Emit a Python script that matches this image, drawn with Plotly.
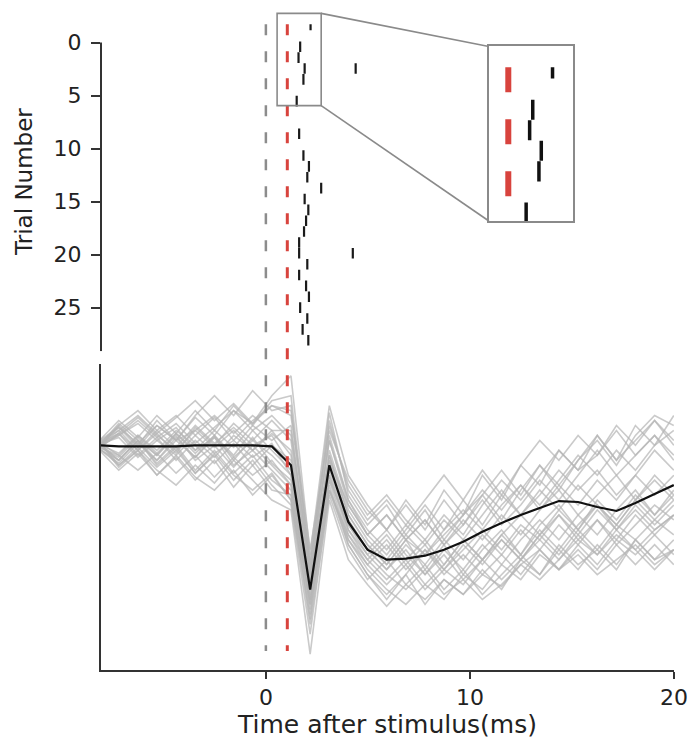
import plotly.graph_objects as go

# ---------------- data ----------------
time_ms = [-8.15, -7.21, -6.27, -5.34, -4.40, -3.46, -2.52, -1.58, -0.65, 0.29,
           1.23, 2.17, 3.11, 4.04, 4.98, 5.92, 6.86, 7.80, 8.73, 9.67,
           10.61, 11.55, 12.49, 13.42, 14.36, 15.30, 16.24, 17.18, 18.11, 19.05, 19.99]

mean_trace = [0.00, -0.01, -0.01, -0.01, -0.01, 0.00, 0.00, 0.00, 0.00, -0.01,
              -0.20, -1.45, -0.20, -0.77, -1.05, -1.15, -1.14, -1.11, -1.05, -0.97,
              -0.87, -0.78, -0.70, -0.63, -0.56, -0.57, -0.62, -0.66, -0.58, -0.49, -0.40]

trace_01 = [0.00, 0.18, -0.02, 0.20, 0.05, 0.28, 0.10, 0.35, 0.22, 0.50, 0.70, -1.10, 0.40, -0.30,
            -0.60, -0.85, -0.55, -0.80, -0.45, -0.70, -0.30, -0.55, -0.20, -0.40, -0.05, -0.25, 0.10, -0.15, 0.20, 0.00, 0.30]
trace_02 = [0.02, -0.15, 0.05, -0.20, -0.02, -0.28, -0.10, -0.35, -0.15, -0.40, -0.60, -1.90, -0.45, -1.00,
            -1.30, -1.55, -1.30, -1.60, -1.35, -1.50, -1.25, -1.45, -1.15, -1.30, -1.00, -1.20, -1.05, -1.25, -0.95, -1.15, -1.05]
trace_03 = [-0.03, 0.12, -0.10, 0.08, -0.15, 0.05, -0.12, 0.10, -0.05, 0.15, -0.10, -1.40, -0.10, -0.70,
            -1.00, -1.20, -0.95, -1.25, -1.00, -1.30, -1.05, -0.85, -1.10, -0.80, -0.60, -0.85, -0.55, -0.75, -0.50, -0.70, -0.45]
trace_04 = [0.05, 0.25, 0.08, 0.30, 0.12, 0.35, 0.15, 0.40, 0.20, 0.45, 0.50, -1.20, 0.33, -0.50,
            -0.80, -0.60, -0.90, -0.65, -0.95, -0.70, -0.50, -0.75, -0.45, -0.20, -0.45, -0.15, 0.05, -0.20, 0.10, 0.30, 0.20]
trace_05 = [-0.05, -0.25, -0.08, -0.30, -0.10, -0.32, -0.45, -0.25, -0.50, -0.30, -0.55, -1.70, -0.35, -0.95,
            -1.25, -1.45, -1.60, -1.40, -1.55, -1.30, -1.45, -1.20, -1.35, -1.10, -1.25, -1.00, -1.20, -0.95, -1.10, -0.90, -1.10]
trace_06 = [0.00, 0.10, 0.22, 0.05, 0.18, -0.05, 0.15, -0.02, 0.20, 0.05, 0.20, -1.30, 0.10, -0.55,
            -0.90, -1.10, -0.85, -0.60, -0.85, -0.55, -0.80, -0.50, -0.70, -0.45, -0.65, -0.40, -0.60, -0.80, -0.55, -0.30, -0.50]
trace_07 = [0.03, -0.10, 0.10, -0.08, 0.12, -0.05, 0.08, -0.12, 0.05, -0.10, -0.30, -1.55, -0.25, -0.85,
            -1.10, -1.30, -1.45, -1.25, -1.50, -1.35, -1.55, -1.40, -1.20, -1.35, -1.15, -0.95, -1.10, -0.90, -1.05, -0.85, -0.70]
trace_08 = [-0.02, 0.20, 0.35, 0.15, 0.30, 0.10, 0.28, 0.05, 0.25, 0.40, 0.30, -1.15, 0.20, -0.40,
            -0.70, -0.50, -0.75, -0.95, -0.70, -0.90, -0.60, -0.35, -0.55, -0.30, -0.05, -0.25, -0.10, 0.15, -0.10, 0.10, -0.15]
trace_09 = [0.04, -0.20, -0.05, -0.25, -0.40, -0.20, -0.38, -0.15, -0.35, -0.55, -0.65, -2.10, -0.55, -1.15,
            -1.40, -1.62, -1.40, -1.55, -1.35, -1.50, -1.30, -1.42, -1.20, -1.05, -1.25, -1.10, -1.30, -1.15, -1.00, -1.20, -1.05]
trace_10 = [0.00, 0.15, -0.05, 0.12, -0.08, 0.18, 0.00, 0.22, 0.05, 0.25, 0.05, -1.35, -0.05, -0.65,
            -0.95, -1.15, -0.90, -1.10, -0.85, -0.65, -0.85, -0.60, -0.40, -0.65, -0.45, -0.70, -0.50, -0.30, -0.55, -0.35, -0.55]
trace_11 = [-0.04, -0.18, 0.02, -0.15, 0.05, -0.12, 0.08, -0.20, -0.05, -0.25, -0.45, -1.60, -0.30, -0.90,
            -1.15, -0.95, -1.20, -1.00, -1.25, -1.05, -0.85, -1.05, -0.80, -0.95, -0.70, -0.90, -0.65, -0.85, -0.60, -0.80, -0.60]
trace_12 = [0.02, 0.20, 0.00, 0.25, 0.05, 0.30, 0.50, 0.30, 0.55, 0.35, 0.40, -1.25, 0.25, -0.45,
            -0.75, -0.55, -0.80, -0.55, -0.30, -0.55, -0.25, -0.50, -0.20, 0.05, -0.15, 0.10, -0.10, 0.20, 0.00, 0.25, 0.05]
trace_13 = [-0.02, -0.12, 0.08, -0.10, 0.12, -0.08, 0.10, -0.15, 0.08, -0.18, -0.35, -1.50, -0.20, -0.80,
            -1.05, -1.25, -1.05, -1.30, -1.10, -1.35, -1.15, -0.95, -1.15, -0.90, -1.10, -0.85, -1.05, -0.80, -0.95, -0.75, -0.90]
trace_14 = [0.03, -0.22, -0.05, -0.30, -0.12, -0.35, -0.15, -0.42, -0.20, -0.45, -0.50, -1.75, -0.40, -1.00,
            -1.30, -1.50, -1.30, -1.05, -1.25, -1.00, -1.20, -0.95, -1.15, -0.90, -0.70, -0.95, -0.75, -1.00, -0.80, -0.60, -0.75]
trace_15 = [-0.01, 0.10, 0.25, 0.08, 0.22, 0.02, 0.18, 0.35, 0.15, 0.30, 0.10, -1.20, 0.05, -0.55,
            -0.85, -1.05, -0.80, -1.00, -0.75, -0.95, -0.70, -0.45, -0.70, -0.50, -0.25, -0.45, -0.25, -0.50, -0.30, -0.05, -0.25]
trace_16 = [0.01, -0.08, 0.10, -0.05, 0.15, 0.00, -0.18, 0.02, -0.20, 0.00, -0.15, -1.45, -0.15, -0.75,
            -1.05, -0.85, -1.10, -1.30, -1.05, -1.25, -1.00, -1.20, -0.95, -0.75, -0.95, -0.70, -0.90, -0.65, -0.45, -0.70, -0.50]
trace_17 = [0.00, 0.22, 0.05, -0.15, 0.08, -0.12, 0.10, -0.10, 0.15, -0.05, -0.25, -1.35, -0.10, -0.70,
            -1.00, -1.20, -0.95, -0.75, -1.00, -0.80, -0.55, -0.80, -0.60, -0.35, -0.55, -0.30, -0.05, -0.30, -0.10, 0.10, -0.10]
trace_18 = [-0.03, -0.20, -0.02, -0.22, -0.05, -0.28, -0.08, -0.30, -0.45, -0.28, -0.55, -1.80, -0.50, -1.05,
            -1.35, -1.15, -1.40, -1.20, -1.45, -1.25, -1.50, -1.30, -1.10, -1.30, -1.05, -1.25, -1.00, -1.20, -0.95, -1.15, -0.95]
trace_19 = [0.04, 0.15, 0.30, 0.12, 0.28, 0.45, 0.25, 0.42, 0.22, 0.40, 0.35, -1.05, 0.15, -0.35,
            -0.65, -0.85, -0.60, -0.85, -0.55, -0.80, -0.50, -0.25, -0.50, -0.20, -0.40, -0.15, 0.10, -0.15, 0.05, 0.25, 0.00]
trace_20 = [0.00, -0.15, 0.05, -0.10, 0.10, -0.15, 0.00, -0.22, 0.00, -0.20, -0.40, -1.55, -0.30, -0.85,
            -1.15, -1.35, -1.15, -1.40, -1.20, -0.95, -1.15, -0.90, -1.10, -0.85, -1.05, -0.80, -0.60, -0.85, -0.65, -0.85, -0.70]
trace_21 = [0.02, 0.12, -0.05, 0.15, -0.02, 0.20, 0.02, 0.18, 0.00, 0.10, -0.20, -1.40, -0.35, -0.80,
            -1.10, -0.90, -1.15, -0.95, -1.20, -0.95, -1.15, -0.90, -0.70, -0.90, -0.65, -0.85, -0.60, -0.80, -0.55, -0.75, -0.55]
trace_22 = [-0.02, -0.10, -0.25, -0.08, -0.28, -0.10, -0.32, -0.12, -0.30, -0.15, -0.40, -1.65, -0.45, -0.95,
            -1.20, -1.40, -1.20, -1.45, -1.25, -1.40, -1.15, -1.35, -1.15, -0.95, -1.15, -0.90, -1.10, -0.85, -1.05, -1.25, -1.05]
trace_23 = [0.05, 0.18, 0.02, 0.20, 0.05, 0.15, -0.02, 0.15, -0.05, 0.12, -0.05, -1.30, -0.15, -0.60,
            -0.90, -0.70, -0.95, -0.75, -1.00, -0.75, -0.95, -0.70, -0.90, -0.65, -0.40, -0.60, -0.35, -0.55, -0.30, -0.50, -0.30]
trace_24 = [-0.04, -0.15, 0.05, -0.18, 0.00, -0.25, -0.05, -0.28, -0.10, -0.35, -0.50, -1.60, -0.45, -0.90,
            -1.20, -1.00, -1.25, -1.05, -1.30, -1.10, -1.30, -1.10, -1.30, -1.05, -1.25, -1.05, -1.25, -1.00, -1.20, -1.00, -1.20]
trace_25 = [0.01, 0.08, -0.12, 0.05, -0.10, 0.10, -0.08, 0.05, -0.12, 0.02, -0.30, -1.45, -0.20, -0.75,
            -1.05, -1.25, -1.00, -1.20, -0.95, -1.15, -0.90, -1.10, -0.85, -1.05, -0.80, -1.00, -0.75, -0.95, -0.70, -0.90, -0.70]
trace_26 = [0.00, 0.12, 0.28, 0.10, -0.05, 0.15, 0.30, 0.12, 0.30, 0.15, 0.15, -1.25, 0.05, -0.60,
            -0.90, -0.70, -0.95, -1.10, -0.90, -0.70, -0.45, -0.65, -0.40, -0.60, -0.35, -0.10, -0.30, -0.05, -0.25, 0.00, 0.15]

gray_traces = [trace_01, trace_02, trace_03, trace_04, trace_05, trace_06, trace_07, trace_08,
               trace_09, trace_10, trace_11, trace_12, trace_13, trace_14, trace_15, trace_16,
               trace_17, trace_18, trace_19, trace_20, trace_21, trace_22, trace_23, trace_24,
               trace_25, trace_26]

# raster: one entry per spike
spike_trials = [-2, 0, 1, 2, 2, 3, 5, 8, 10, 11, 12, 13, 14, 15, 16, 17, 18, 19, 19,
                20, 21, 22, 23, 24, 25, 26, 27]
spike_times = [2.19, 1.68, 1.60, 1.90, 4.40, 1.84, 1.51, 1.63, 1.84, 2.11, 2.03, 2.71, 1.90,
               2.08, 1.97, 1.87, 1.63, 1.63, 4.26, 2.03, 1.63, 1.97, 2.11, 1.68, 2.03, 1.80, 2.08]

stim_time = 0.0       # grey dashed
response_time = 1.05  # red dashed
trial_ticks = [0, 5, 10, 15, 20, 25]
time_ticks = [0, 10, 20]
zoom_time = [0.55, 2.71]
zoom_trials = [-2.75, 5.95]

# ---------------- layout constants ----------------
W, H = 700, 742
ML, MR, MT, MB = 101, 18, 12, 68
PW, PH = W - ML - MR, H - MT - MB


def xdom(px):
    return (px - ML) / PW


def ydom(py):
    return (H - MB - py) / PH


X_RANGE = [-8.08, 20.0]
R_RANGE = [29.1, -2.88]        # raster (reversed)
R_DOM = [ydom(353.2), 1.0]
B_RANGE = [-2.26, 0.82]
B_DOM = [0.0, ydom(366)]
I_XDOM = [xdom(494.3), xdom(579.3)]
I_YDOM = [ydom(222.3), ydom(46.7)]
RASTER_TOP = -1.72
ROW_PITCH = 1.025
SPIKE_LEN = 1.0


def x2p(t):
    return (t - X_RANGE[0]) / (X_RANGE[1] - X_RANGE[0])


def r2p(v):
    return R_DOM[0] + (R_RANGE[0] - v) / (R_RANGE[0] - R_RANGE[1]) * (R_DOM[1] - R_DOM[0])


def b2p(v):
    return B_DOM[0] + (v - B_RANGE[0]) / (B_RANGE[1] - B_RANGE[0]) * (B_DOM[1] - B_DOM[0])


GREY = "#8c8c8c"
RED = "#d8433d"
FRAME = "#8a8a8a"
INK = "#222222"
FONT = "DejaVu Sans"

fig = go.Figure()

# grey single trials
for tr in gray_traces:
    fig.add_trace(go.Scatter(x=time_ms, y=tr, mode="lines", xaxis="x2", yaxis="y2",
                             line=dict(color="rgba(182,182,182,0.72)", width=1.6),
                             hoverinfo="skip", showlegend=False))
# mean
fig.add_trace(go.Scatter(x=time_ms, y=mean_trace, mode="lines", xaxis="x2", yaxis="y2",
                         line=dict(color="#111111", width=2.2), showlegend=False))

# raster spikes
sx, sy = [], []
for k, t in zip(spike_trials, spike_times):
    y0 = k * ROW_PITCH - 0.1
    y1 = y0 + SPIKE_LEN
    sx += [t, t, None]
    sy += [max(y0, RASTER_TOP), y1, None]
fig.add_trace(go.Scatter(x=sx, y=sy, mode="lines", xaxis="x", yaxis="y",
                         line=dict(color="#1a1a1a", width=2.2), showlegend=False))
fig.add_trace(go.Scatter(x=sx, y=sy, mode="lines", xaxis="x3", yaxis="y3",
                         line=dict(color="#111111", width=3.5), showlegend=False))

shapes = []
# long dashed markers spanning both panels
for t, col, w in [(stim_time, GREY, 2.5), (response_time, RED, 3)]:
    shapes.append(dict(type="line", xref="x", yref="paper", x0=t, x1=t,
                       y0=r2p(RASTER_TOP), y1=b2p(-2.07),
                       line=dict(color=col, width=w, dash="11px,16px")))
# red marker inside inset
shapes.append(dict(type="line", xref="x3", yref="y3", x0=response_time, x1=response_time,
                   y0=RASTER_TOP, y1=zoom_trials[1] + 1,
                   line=dict(color=RED, width=6, dash="25px,27px")))
# raster spine
shapes.append(dict(type="line", xref="paper", yref="y", x0=0, x1=0, y0=0, y1=R_RANGE[0],
                   line=dict(color="#333333", width=2)))
# zoom rectangle
shapes.append(dict(type="rect", xref="x", yref="y", x0=zoom_time[0], x1=zoom_time[1],
                   y0=zoom_trials[0], y1=zoom_trials[1],
                   line=dict(color=FRAME, width=1.6)))
# connectors
shapes.append(dict(type="line", xref="paper", yref="paper",
                   x0=x2p(zoom_time[1]), y0=r2p(zoom_trials[0]), x1=I_XDOM[0], y1=I_YDOM[1],
                   line=dict(color=FRAME, width=1.6)))
shapes.append(dict(type="line", xref="paper", yref="paper",
                   x0=x2p(zoom_time[1]), y0=r2p(zoom_trials[1]), x1=I_XDOM[0], y1=I_YDOM[0],
                   line=dict(color=FRAME, width=1.6)))

tickfont = dict(family=FONT, size=22, color=INK)

fig.update_layout(
    width=W, height=H,
    margin=dict(l=ML, r=MR, t=MT, b=MB),
    paper_bgcolor="white", plot_bgcolor="white",
    font=dict(family=FONT, color=INK),
    showlegend=False,
    shapes=shapes,
    xaxis=dict(domain=[0, 1], anchor="y", range=X_RANGE, visible=False),
    yaxis=dict(domain=R_DOM, anchor="x", range=R_RANGE, showgrid=False, zeroline=False,
               showline=False, ticks="outside", ticklen=9, tickwidth=1.6, tickcolor="#333333",
               tickvals=trial_ticks, tickfont=tickfont, ticklabelstandoff=5,
               title=dict(text="Trial Number", font=dict(family=FONT, size=23, color=INK), standoff=14)),
    xaxis2=dict(domain=[0, 1], anchor="y2", range=X_RANGE, showgrid=False, zeroline=False,
                showline=True, linecolor="#333333", linewidth=2, ticks="outside", ticklen=7,
                tickwidth=1.6, tickcolor="#333333", tickvals=time_ticks, tickfont=tickfont,
                title=dict(text="Time after stimulus(ms)", font=dict(family=FONT, size=25, color=INK),
                           standoff=2)),
    yaxis2=dict(domain=B_DOM, anchor="x2", range=B_RANGE, showgrid=False, zeroline=False,
                showline=True, linecolor="#333333", linewidth=2, ticks="", showticklabels=False),
    xaxis3=dict(domain=I_XDOM, anchor="y3", range=zoom_time, showgrid=False, zeroline=False,
                showline=True, mirror=True, linecolor=FRAME, linewidth=1.6, ticks="",
                showticklabels=False),
    yaxis3=dict(domain=I_YDOM, anchor="x3", range=[zoom_trials[1], zoom_trials[0]], showgrid=False,
                zeroline=False, showline=True, mirror=True, linecolor=FRAME, linewidth=1.6, ticks="",
                showticklabels=False),
)

fig.write_html("out.html")
